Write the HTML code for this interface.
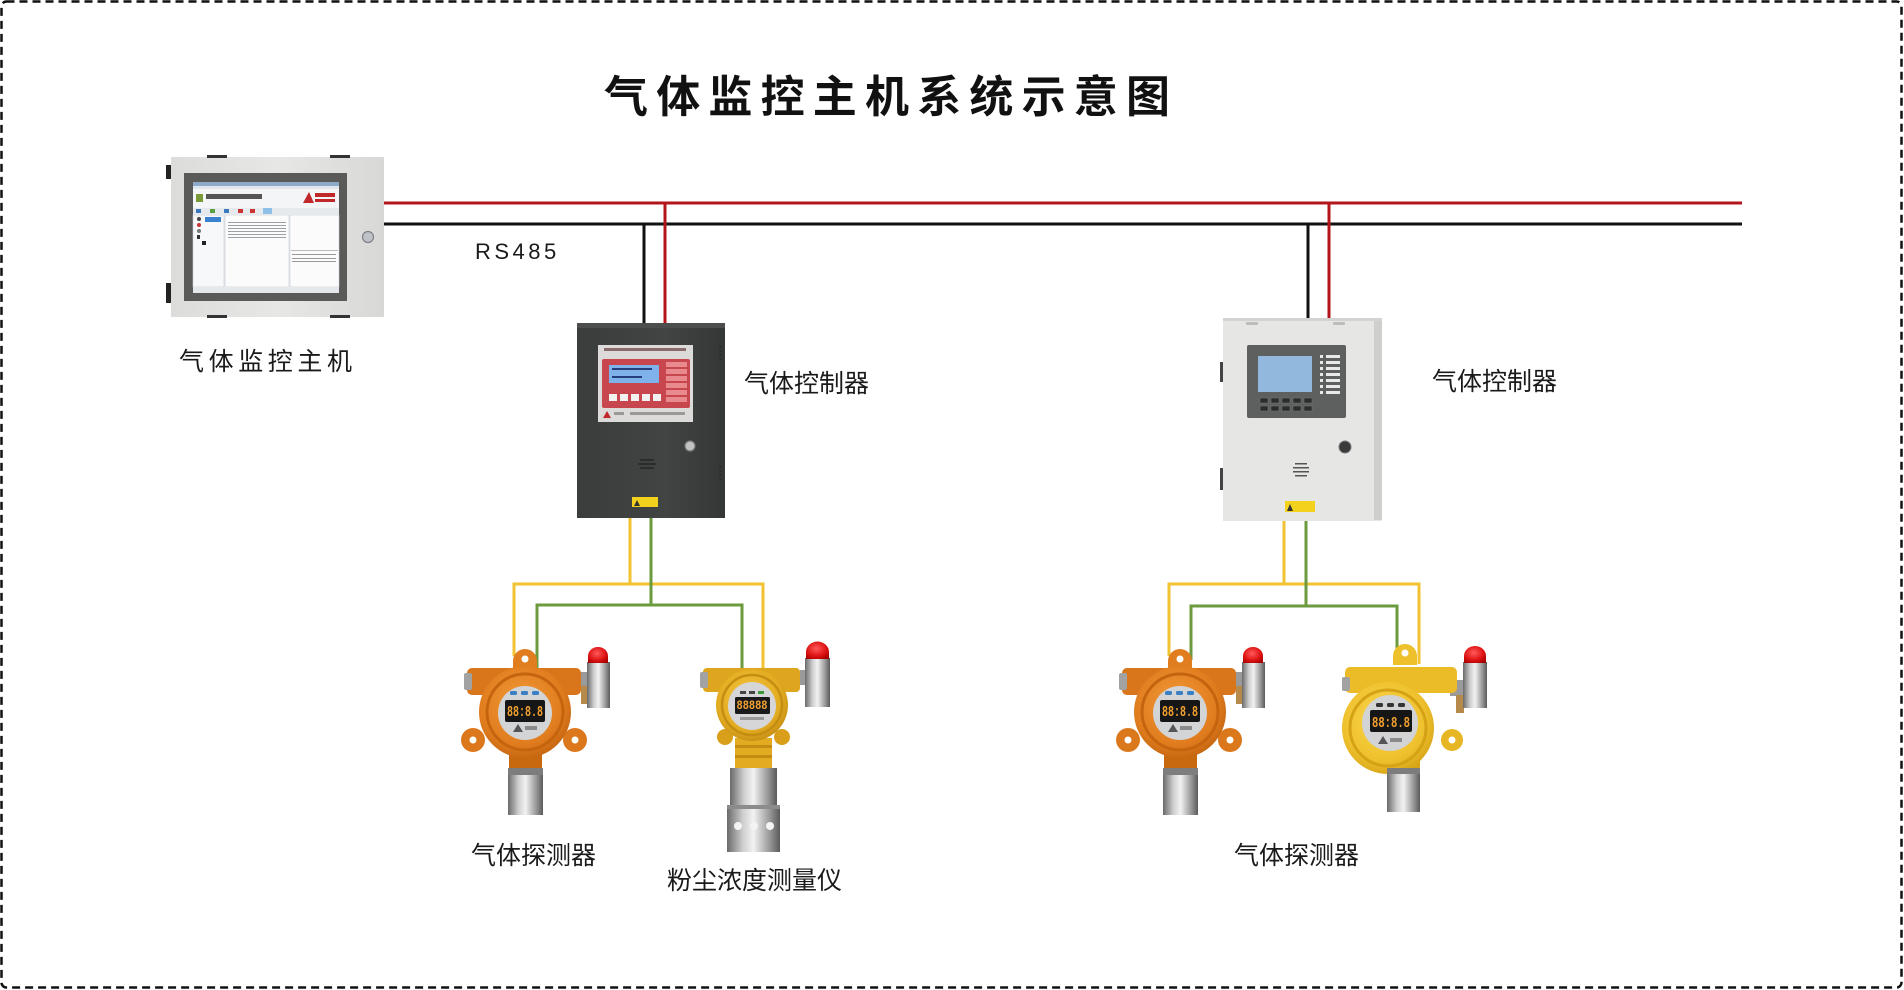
<!DOCTYPE html>
<html>
<head>
<meta charset="utf-8">
<style>
html,body{margin:0;padding:0;background:#fff;}
#wrap{position:relative;width:1904px;height:990px;overflow:hidden;background:#fff;}
svg{position:absolute;left:0;top:0;}
.t{position:absolute;white-space:nowrap;font-family:"Liberation Sans","Noto Sans CJK SC",sans-serif;color:#1a1a1a;}
</style>
</head>
<body>
<div id="wrap">
<svg width="1904" height="990" viewBox="0 0 1904 990" xmlns="http://www.w3.org/2000/svg">
<defs>
  <linearGradient id="silverH" x1="0" y1="0" x2="1" y2="0">
    <stop offset="0" stop-color="#6a6a6a"/>
    <stop offset="0.3" stop-color="#cfcfcf"/>
    <stop offset="0.5" stop-color="#f2f2f2"/>
    <stop offset="0.8" stop-color="#9a9a9a"/>
    <stop offset="1" stop-color="#5a5a5a"/>
  </linearGradient>
  <radialGradient id="redDome" cx="0.45" cy="0.4" r="0.7">
    <stop offset="0" stop-color="#ff5a5a"/>
    <stop offset="0.6" stop-color="#e01515"/>
    <stop offset="1" stop-color="#a80000"/>
  </radialGradient>
  <radialGradient id="orangeBody" cx="0.45" cy="0.4" r="0.65">
    <stop offset="0" stop-color="#f29a38"/>
    <stop offset="0.7" stop-color="#e07c1e"/>
    <stop offset="1" stop-color="#c0620e"/>
  </radialGradient>
  <radialGradient id="goldBody" cx="0.45" cy="0.4" r="0.65">
    <stop offset="0" stop-color="#f4c840"/>
    <stop offset="0.7" stop-color="#e2aa20"/>
    <stop offset="1" stop-color="#c38b12"/>
  </radialGradient>
  <radialGradient id="yelBody" cx="0.45" cy="0.4" r="0.65">
    <stop offset="0" stop-color="#fbd850"/>
    <stop offset="0.7" stop-color="#eec02c"/>
    <stop offset="1" stop-color="#d3a014"/>
  </radialGradient>
  <linearGradient id="cabGrad" x1="0" y1="0" x2="1" y2="0">
    <stop offset="0" stop-color="#dcdcda"/>
    <stop offset="0.5" stop-color="#e7e7e5"/>
    <stop offset="1" stop-color="#d8d8d6"/>
  </linearGradient>
  <linearGradient id="darkGrad" x1="0" y1="0" x2="1" y2="0">
    <stop offset="0" stop-color="#3a3d3c"/>
    <stop offset="0.6" stop-color="#414443"/>
    <stop offset="1" stop-color="#343736"/>
  </linearGradient>

  <!-- orange gas detector, origin at face center -->
  <g id="osens">
    <rect x="52" y="-40" width="12" height="14" fill="#9a9a9a"/>
    <rect x="56" y="-26" width="8" height="18" fill="#b58a4a"/>
    <rect x="62" y="-50" width="23" height="46" fill="url(#silverH)"/>
    <path d="M63 -49 V-56 A10 9 0 0 1 83 -56 V-49 Z" fill="url(#redDome)"/>
    <path d="M-12 -42 V-51 A12 12 0 0 1 12 -51 V-42 Z" fill="#e07d1f"/>
    <circle cx="0" cy="-53" r="3.5" fill="#fff"/>
    <rect x="-58" y="-44" width="114" height="27" rx="5" fill="#d9751a"/>
    <rect x="-61" y="-39" width="8" height="17" rx="2" fill="#a2a2a2"/>
    <circle cx="-52" cy="28" r="12" fill="#dc781c"/>
    <circle cx="-52" cy="28" r="3.5" fill="#fff"/>
    <circle cx="50" cy="28" r="12" fill="#dc781c"/>
    <circle cx="50" cy="28" r="3.5" fill="#fff"/>
    <rect x="-16" y="38" width="33" height="19" fill="#c9690f"/>
    <circle cx="0" cy="0" r="46" fill="url(#orangeBody)"/>
    <circle cx="0" cy="0" r="38" fill="none" stroke="#c5640e" stroke-width="3"/>
    <circle cx="0" cy="1" r="27" fill="#d3d4d6"/>
    <rect x="-20" y="-12" width="40" height="22" rx="2" fill="#161616"/>
    <rect x="-15" y="-21" width="7" height="4" rx="1.5" fill="#3b7fc4"/>
    <rect x="-4" y="-21" width="7" height="4" rx="1.5" fill="#3b7fc4"/>
    <rect x="7" y="-21" width="7" height="4" rx="1.5" fill="#3b7fc4"/>
    <path d="M-12 20 L-7 12 L-2 20 Z" fill="#555"/>
    <rect x="0" y="14" width="12" height="4" fill="#8a8a8a"/>
    <rect x="-17" y="56" width="35" height="47" fill="url(#silverH)"/>
    <rect x="-17" y="56" width="35" height="7" fill="#7d7d7d"/>
  </g>
</defs>

<!-- dashed frame -->
<rect x="1.5" y="1.5" width="1900" height="986" rx="5" fill="none" stroke="#111" stroke-width="2.5" stroke-dasharray="8 5"/>

<!-- RS485 bus -->
<line x1="384" y1="203" x2="1742" y2="203" stroke="#b3151b" stroke-width="3"/>
<line x1="384" y1="224" x2="1742" y2="224" stroke="#111" stroke-width="3"/>
<line x1="644" y1="224" x2="644" y2="326" stroke="#111" stroke-width="3"/>
<line x1="665" y1="203" x2="665" y2="326" stroke="#b3151b" stroke-width="3"/>
<line x1="1308" y1="224" x2="1308" y2="320" stroke="#111" stroke-width="3"/>
<line x1="1329" y1="203" x2="1329" y2="320" stroke="#b3151b" stroke-width="3"/>

<!-- sensor wiring group 1 -->
<g fill="none" stroke-width="3">
  <path d="M630 516 V584 M514 656 V584 H763 V668" stroke="#f1c232"/>
  <path d="M651 516 V605 M537 668 V605 H742 V668" stroke="#6b9b3c"/>
  <path d="M1284 518 V584 M1169 656 V584 H1419 V664" stroke="#f1c232"/>
  <path d="M1306 518 V606 M1191 660 V606 H1397 V664" stroke="#6b9b3c"/>
</g>

<!-- host cabinet -->
<rect x="166" y="165" width="5" height="14" fill="#222"/>
<rect x="166" y="283" width="5" height="20" fill="#222"/>
<rect x="171" y="157" width="213" height="160" fill="url(#cabGrad)"/>
<rect x="207" y="155" width="20" height="3" fill="#333"/>
<rect x="330" y="155" width="20" height="3" fill="#333"/>
<rect x="207" y="315" width="20" height="3" fill="#333"/>
<rect x="330" y="315" width="20" height="3" fill="#333"/>
<rect x="184" y="173" width="163" height="128" fill="#5a5b59"/>
<rect x="193" y="182" width="146" height="111" fill="#f3f5f7"/>
<rect x="193" y="182" width="146" height="4" fill="#8fa9c8"/>
<rect x="193" y="186" width="146" height="3" fill="#dfe6ee"/>
<rect x="196" y="194" width="7" height="8" fill="#7a9a3a"/>
<rect x="206" y="194" width="56" height="5" fill="#555"/>
<path d="M303 203 L309 192 L314 203 Z" fill="#c0282a"/>
<rect x="315" y="193" width="20" height="4" fill="#c0282a"/>
<rect x="315" y="199" width="20" height="3" fill="#c0282a"/>
<rect x="193" y="208" width="146" height="6" fill="#e6eaef"/>
<rect x="196" y="209" width="5" height="4" fill="#3a78c0"/>
<rect x="210" y="209" width="5" height="4" fill="#58a040"/>
<rect x="224" y="209" width="5" height="4" fill="#3a78c0"/>
<rect x="238" y="209" width="5" height="4" fill="#c33"/>
<rect x="250" y="209" width="5" height="4" fill="#c33"/>
<rect x="263" y="208" width="9" height="6" fill="#8ec0e8"/>
<rect x="193" y="215" width="31" height="72" fill="#f7f8f9" stroke="#c8cdd2" stroke-width="0.6"/>
<rect x="205" y="217" width="16" height="5" fill="#3a82d0"/>
<circle cx="199" cy="219" r="2" fill="#444"/>
<circle cx="199" cy="225" r="2" fill="#c33"/>
<circle cx="199" cy="231" r="2" fill="#777"/>
<rect x="197" y="235" width="3" height="4" fill="#333"/>
<rect x="202" y="241" width="4" height="4" fill="#222"/>
<rect x="225" y="215" width="64" height="72" fill="#fbfbfb" stroke="#c8cdd2" stroke-width="0.6"/>
<g fill="#9aa0a6">
  <rect x="228" y="222" width="58" height="1"/>
  <rect x="228" y="225" width="58" height="1"/>
  <rect x="228" y="228" width="58" height="1"/>
  <rect x="228" y="231" width="58" height="1"/>
  <rect x="228" y="234" width="58" height="1"/>
  <rect x="228" y="237" width="58" height="1"/>
</g>
<rect x="290" y="215" width="49" height="72" fill="#fbfbfb" stroke="#c8cdd2" stroke-width="0.6"/>
<rect x="291" y="250" width="47" height="1" fill="#bbb"/>
<rect x="292" y="254" width="44" height="1" fill="#999"/>
<rect x="292" y="258" width="44" height="1" fill="#999"/>
<rect x="292" y="261" width="44" height="1" fill="#999"/>
<rect x="193" y="288" width="146" height="5" fill="#e4e8ec"/>
<circle cx="368" cy="237" r="5.5" fill="#bfc3c7" stroke="#7d8185" stroke-width="1.2"/>

<!-- controller 1 (dark) -->
<rect x="577" y="324" width="148" height="194" fill="url(#darkGrad)"/>
<rect x="577" y="323" width="148" height="5" fill="#4b4e4d"/>
<g fill="#2a2c2b">
  <rect x="719" y="346" width="3" height="1.5"/><rect x="719" y="350" width="3" height="1.5"/>
  <rect x="719" y="354" width="3" height="1.5"/><rect x="719" y="358" width="3" height="1.5"/>
  <rect x="719" y="466" width="3" height="1.5"/><rect x="719" y="470" width="3" height="1.5"/>
  <rect x="719" y="474" width="3" height="1.5"/><rect x="719" y="478" width="3" height="1.5"/>
</g>
<rect x="598" y="345" width="95" height="77" fill="#dddbda"/>
<rect x="604" y="348" width="82" height="3" fill="#8a6a6a"/>
<rect x="602" y="359" width="88" height="49" rx="2" fill="#c8464e"/>
<rect x="609" y="365" width="50" height="18" fill="#7fb2ea"/>
<rect x="612" y="368" width="40" height="2" fill="#24407a"/>
<rect x="612" y="376" width="30" height="2" fill="#24407a"/>
<g fill="#f1f1f1">
  <rect x="609" y="394" width="8" height="7"/><rect x="620" y="394" width="8" height="7"/>
  <rect x="631" y="394" width="8" height="7"/><rect x="642" y="394" width="8" height="7"/>
  <rect x="653" y="394" width="8" height="7"/>
</g>
<g fill="#e98a8f">
  <rect x="666" y="362" width="21" height="5"/><rect x="666" y="369" width="21" height="5"/>
  <rect x="666" y="376" width="21" height="5"/><rect x="666" y="383" width="21" height="5"/>
  <rect x="666" y="390" width="21" height="5"/><rect x="666" y="397" width="21" height="5"/>
</g>
<path d="M603 418 L607 411 L611 418 Z" fill="#c0282a"/>
<rect x="614" y="412" width="10" height="3" fill="#999"/>
<rect x="630" y="412" width="55" height="3" fill="#999"/>
<circle cx="690" cy="446" r="5" fill="#c2c2c2" stroke="#7a7a7a" stroke-width="1.2"/>
<g fill="#2b2d2c">
  <rect x="640" y="459" width="14" height="2" rx="1"/><rect x="638" y="463" width="18" height="2" rx="1"/>
  <rect x="640" y="467" width="14" height="2" rx="1"/>
</g>
<rect x="632" y="497" width="26" height="10" fill="#f2d21c"/>
<path d="M634 506 L637 500 L640 506 Z" fill="#333"/>

<!-- controller 2 (light) -->
<rect x="1220" y="362" width="4" height="20" fill="#444"/>
<rect x="1220" y="468" width="4" height="22" fill="#444"/>
<rect x="1223" y="318" width="159" height="203" fill="#e6e6e4"/>
<rect x="1374" y="320" width="8" height="200" fill="#cfcfcd"/>
<rect x="1223" y="318" width="159" height="3" fill="#d3d3d1"/>
<rect x="1246" y="322" width="12" height="3" rx="1" fill="#bdbdbb"/>
<rect x="1333" y="322" width="12" height="3" rx="1" fill="#bdbdbb"/>
<rect x="1247" y="345" width="99" height="73" rx="2" fill="#5e605f"/>
<rect x="1258" y="356" width="54" height="36" fill="#93b8de"/>
<g fill="#2b2d2c" stroke="#777" stroke-width="0.5">
  <rect x="1260" y="398" width="8" height="5"/><rect x="1271" y="398" width="8" height="5"/>
  <rect x="1282" y="398" width="8" height="5"/><rect x="1293" y="398" width="8" height="5"/>
  <rect x="1304" y="398" width="8" height="5"/>
  <rect x="1260" y="406" width="8" height="5"/><rect x="1271" y="406" width="8" height="5"/>
  <rect x="1282" y="406" width="8" height="5"/><rect x="1293" y="406" width="8" height="5"/>
  <rect x="1304" y="406" width="8" height="5"/>
</g>
<g fill="#e8e8e8">
  <rect x="1320" y="355" width="3" height="3"/><rect x="1326" y="355" width="14" height="3"/>
  <rect x="1320" y="361" width="3" height="3"/><rect x="1326" y="361" width="14" height="3"/>
  <rect x="1320" y="367" width="3" height="3"/><rect x="1326" y="367" width="14" height="3"/>
  <rect x="1320" y="373" width="3" height="3"/><rect x="1326" y="373" width="14" height="3"/>
  <rect x="1320" y="379" width="3" height="3"/><rect x="1326" y="379" width="14" height="3"/>
  <rect x="1320" y="385" width="3" height="3"/><rect x="1326" y="385" width="14" height="3"/>
  <rect x="1320" y="391" width="3" height="3"/><rect x="1326" y="391" width="14" height="3"/>
</g>
<circle cx="1345" cy="447" r="6" fill="#3a3a3a" stroke="#777" stroke-width="1"/>
<g fill="#555">
  <rect x="1295" y="463" width="12" height="1.5"/><rect x="1293" y="467" width="16" height="1.5"/>
  <rect x="1293" y="471" width="16" height="1.5"/><rect x="1295" y="475" width="12" height="1.5"/>
</g>
<rect x="1285" y="501" width="30" height="11" fill="#f2d21c"/>
<path d="M1287 511 L1290 504 L1293 511 Z" fill="#333"/>

<!-- detectors -->
<use href="#osens" transform="translate(525,712)"/>
<use href="#osens" transform="translate(1180,712)"/>
<text x="525" y="716" font-family="Liberation Mono, monospace" font-size="15" font-weight="bold" fill="#f0a030" text-anchor="middle" textLength="36" lengthAdjust="spacingAndGlyphs">88:8.8</text>
<text x="1180" y="716" font-family="Liberation Mono, monospace" font-size="15" font-weight="bold" fill="#f0a030" text-anchor="middle" textLength="36" lengthAdjust="spacingAndGlyphs">88:8.8</text>

<!-- dust meter -->
<g transform="translate(752,705)">
  <rect x="48" y="-35" width="10" height="15" fill="#9a9a9a"/>
  <rect x="53" y="-47" width="25" height="49" fill="url(#silverH)"/>
  <path d="M54 -46 V-53 A11 10 0 0 1 77 -53 V-46 Z" fill="url(#redDome)"/>
  <rect x="-49" y="-37" width="97" height="24" rx="4" fill="#dea51e"/>
  <rect x="-52" y="-33" width="8" height="16" rx="2" fill="#a2a2a2"/>
  <circle cx="-27" cy="32" r="8" fill="#d99e1a"/>
  <circle cx="30" cy="32" r="8" fill="#d99e1a"/>
  <rect x="-17" y="33" width="37" height="30" fill="#e2ab22"/>
  <rect x="-17" y="40" width="37" height="3" fill="#c48c12"/>
  <rect x="-17" y="50" width="37" height="3" fill="#c48c12"/>
  <circle cx="0" cy="0" r="36" fill="url(#goldBody)"/>
  <circle cx="0" cy="0" r="30" fill="none" stroke="#c58d12" stroke-width="2.5"/>
  <circle cx="0" cy="1" r="24" fill="#d6d6d8"/>
  <rect x="-12" y="-14" width="6" height="3" fill="#444"/>
  <rect x="-3" y="-14" width="6" height="3" fill="#444"/>
  <rect x="6" y="-14" width="6" height="3" fill="#3a9a3a"/>
  <rect x="-17" y="-8" width="35" height="17" rx="1.5" fill="#1a1a1a"/>
  <rect x="-12" y="12" width="24" height="3" fill="#999"/>
  <rect x="-22" y="63" width="47" height="38" fill="url(#silverH)"/>
  <rect x="-25" y="100" width="53" height="47" fill="url(#silverH)"/>
  <rect x="-25" y="100" width="53" height="4" fill="#8c8c8c"/>
  <circle cx="-14" cy="121" r="4" fill="#f4f4f4"/>
  <circle cx="2" cy="121" r="4" fill="#f4f4f4"/>
  <circle cx="18" cy="121" r="4" fill="#f4f4f4"/>
</g>
<text x="752" y="709" font-family="Liberation Mono, monospace" font-size="13" font-weight="bold" fill="#f0a030" text-anchor="middle" textLength="31" lengthAdjust="spacingAndGlyphs">88888</text>

<!-- yellow gas detector -->
<g transform="translate(1390,723)">
  <rect x="60" y="-43" width="15" height="16" fill="#9a9a9a"/>
  <rect x="66" y="-28" width="8" height="18" fill="#b58a4a"/>
  <rect x="73" y="-61" width="24" height="46" fill="url(#silverH)"/>
  <path d="M74 -60 V-67 A11 10 0 0 1 96 -67 V-60 Z" fill="url(#redDome)"/>
  <path d="M3 -58 V-67 A12 12 0 0 1 27 -67 V-58 Z" fill="#eec02c"/>
  <circle cx="15" cy="-70" r="3.5" fill="#fff"/>
  <rect x="-45" y="-56" width="112" height="26" rx="5" fill="#ebbb28"/>
  <rect x="-48" y="-46" width="8" height="14" rx="2" fill="#a2a2a2"/>
  <circle cx="62" cy="17" r="11" fill="#e6b624"/>
  <circle cx="62" cy="17" r="3.5" fill="#fff"/>
  <rect x="-3" y="32" width="33" height="15" fill="#d9a514"/>
  <circle cx="-2" cy="5" r="46" fill="url(#yelBody)"/>
  <circle cx="-2" cy="5" r="38" fill="none" stroke="#d5a216" stroke-width="3"/>
  <circle cx="0" cy="0" r="28" fill="#d2d3d5"/>
  <rect x="-14" y="-20" width="7" height="4" rx="1.5" fill="#333"/>
  <rect x="-3" y="-20" width="7" height="4" rx="1.5" fill="#333"/>
  <rect x="8" y="-20" width="7" height="4" rx="1.5" fill="#333"/>
  <rect x="-20" y="-13" width="42" height="22" rx="2" fill="#161616"/>
  <path d="M-12 21 L-7 13 L-2 21 Z" fill="#555"/>
  <rect x="0" y="15" width="12" height="4" fill="#8a8a8a"/>
  <rect x="-3" y="45" width="33" height="44" fill="url(#silverH)"/>
  <rect x="-3" y="45" width="33" height="6" fill="#7d7d7d"/>
</g>
<text x="1391" y="727" font-family="Liberation Mono, monospace" font-size="15" font-weight="bold" fill="#f0a030" text-anchor="middle" textLength="38" lengthAdjust="spacingAndGlyphs">88:8.8</text>
</svg>

<div class="t" style="left:604px;top:76px;font-size:44px;line-height:44px;font-weight:bold;letter-spacing:8.2px;color:#111;">气体监控主机系统示意图</div>
<div class="t" style="left:179px;top:350px;font-size:25px;line-height:25px;letter-spacing:4.6px;">气体监控主机</div>
<div class="t" style="left:475px;top:241px;font-size:22px;line-height:22px;letter-spacing:3.5px;">RS485</div>
<div class="t" style="left:744px;top:372px;font-size:25px;line-height:25px;">气体控制器</div>
<div class="t" style="left:1432px;top:370px;font-size:25px;line-height:25px;">气体控制器</div>
<div class="t" style="left:471px;top:844px;font-size:25px;line-height:25px;">气体探测器</div>
<div class="t" style="left:667px;top:869px;font-size:25px;line-height:25px;">粉尘浓度测量仪</div>
<div class="t" style="left:1234px;top:844px;font-size:25px;line-height:25px;">气体探测器</div>
</div>
</body>
</html>
